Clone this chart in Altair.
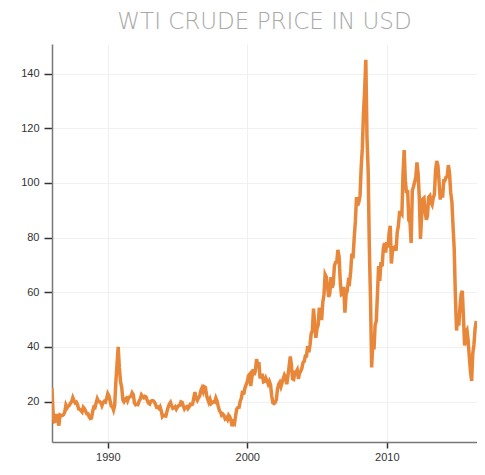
import altair as alt
import pandas as pd

# Monthly WTI crude price (USD), Jan 1986 .. Jun 2016
wti_1986_1990 = [
    25.0, 15.5, 12.6, 12.8, 15.4, 13.4, 11.2, 15.1, 14.9, 14.9, 15.2, 16.1,
    18.7, 17.7, 18.3, 18.6, 19.4, 20.0, 21.4, 20.3, 19.5, 19.8, 18.9, 17.3,
    17.1, 16.7, 16.2, 17.9, 17.4, 16.5, 15.5, 15.5, 14.5, 13.8, 14.0, 16.3,
    18.0, 17.8, 19.4, 21.0, 20.0, 20.0, 19.6, 18.5, 19.6, 20.1, 19.8, 21.1,
    22.9, 22.1, 20.4, 18.4, 18.2, 16.9, 18.6, 27.2, 33.7, 40.0, 32.3, 27.3,
]
wti_1991_1995 = [
    25.2, 20.5, 19.9, 20.8, 21.2, 20.2, 21.4, 21.7, 21.9, 23.2, 22.5, 19.5,
    18.8, 19.0, 18.9, 20.2, 20.9, 22.4, 21.8, 21.4, 21.9, 21.7, 20.3, 19.4,
    19.1, 20.1, 20.3, 20.3, 19.9, 19.1, 17.9, 18.0, 17.5, 18.1, 16.7, 14.5,
    15.0, 14.8, 14.7, 16.4, 17.9, 19.1, 19.7, 18.4, 17.5, 17.7, 18.1, 17.2,
    18.0, 18.5, 18.6, 19.9, 19.7, 18.4, 17.3, 18.0, 18.2, 17.4, 18.0, 19.0,
]
wti_1996_2000 = [
    18.9, 19.1, 21.3, 23.5, 21.2, 20.4, 21.3, 21.9, 23.9, 24.9, 23.7, 25.4,
    25.1, 22.2, 20.9, 19.7, 20.8, 19.3, 19.7, 19.9, 19.8, 21.3, 20.2, 18.3,
    16.7, 16.1, 15.0, 15.4, 14.9, 13.7, 14.1, 13.4, 15.0, 14.4, 12.9, 11.0,
    12.5, 12.0, 14.7, 17.3, 17.8, 17.9, 20.1, 21.3, 23.9, 22.6, 25.0, 26.1,
    27.2, 29.4, 29.9, 25.7, 28.8, 31.8, 29.7, 31.3, 35.5, 33.1, 34.4, 28.5,
]
wti_2001_2005 = [
    29.6, 29.6, 27.2, 27.4, 28.6, 27.6, 26.4, 27.4, 26.2, 22.2, 19.6, 19.3,
    19.7, 20.7, 24.4, 26.3, 27.0, 25.5, 26.9, 28.4, 29.7, 28.9, 26.3, 29.4,
    32.9, 36.5, 33.6, 28.3, 28.1, 30.7, 30.8, 31.6, 28.3, 30.3, 31.1, 32.2,
    34.3, 34.7, 36.7, 36.7, 40.3, 38.0, 40.7, 44.9, 45.9, 54.0, 48.5, 43.3,
    46.8, 48.0, 54.3, 53.0, 49.8, 56.3, 59.0, 66.5, 65.6, 62.4, 58.3, 59.4,
]
wti_2006_2010 = [
    65.5, 61.6, 62.9, 69.7, 70.9, 71.0, 75.5, 73.1, 63.9, 59.1, 59.4, 62.0,
    52.5, 59.3, 60.4, 64.0, 63.5, 67.5, 74.1, 72.4, 79.9, 85.8, 94.8, 91.7,
    93.0, 95.4, 105.5, 112.6, 125.4, 133.9, 145.0, 116.7, 104.1, 76.6, 57.3, 32.5,
    41.7, 39.1, 47.9, 49.6, 59.0, 69.6, 64.1, 71.0, 69.4, 75.7, 78.0, 74.5,
    78.3, 76.4, 81.2, 84.3, 70.5, 75.3, 76.3, 76.6, 75.2, 81.9, 84.3, 89.2,
]
wti_2011_2016 = [
    89.2, 88.6, 102.9, 112.0, 100.9, 96.3, 97.3, 86.3, 85.5, 78.0, 97.2, 98.6,
    100.3, 102.2, 107.5, 103.3, 94.7, 79.5, 87.9, 94.1, 94.5, 89.5, 86.5, 87.9,
    94.8, 95.3, 92.9, 92.0, 94.5, 95.8, 104.6, 108.0, 106.3, 100.5, 93.9, 97.6,
    94.6, 100.8, 100.8, 102.1, 102.2, 106.5, 103.6, 96.5, 93.2, 84.4, 75.8, 59.3,
    46.0, 50.6, 47.8, 54.5, 59.3, 60.5, 50.9, 40.5, 45.5, 46.2, 42.4, 36.5,
    31.0, 27.5, 37.5, 40.8, 46.7, 49.5,
]

x_tick_years = [1990, 2000, 2010]
y_ticks = [20, 40, 60, 80, 100, 120, 140]

prices = (wti_1986_1990 + wti_1991_1995 + wti_1996_2000
          + wti_2001_2005 + wti_2006_2010 + wti_2011_2016)
dates = pd.date_range("1986-01-01", periods=len(prices), freq="MS")
df = pd.DataFrame({"date": dates, "price": prices})

chart = (
    alt.Chart(df)
    .mark_line(color="#e8873a", strokeWidth=3.5, clip=True)
    .encode(
        x=alt.X(
            "date:T",
            title=None,
            scale=alt.Scale(domain=[alt.DateTime(year=1986, month=1, date=2),
                                    alt.DateTime(year=2016, month=6, date=20)]),
            axis=alt.Axis(
                values=[alt.DateTime(year=y, month=1, date=1) for y in x_tick_years],
                format="%Y", tickSize=6, labelPadding=3,
            ),
        ),
        y=alt.Y(
            "price:Q",
            title=None,
            scale=alt.Scale(domain=[5.2, 150.8], nice=False, zero=False),
            axis=alt.Axis(values=y_ticks, tickSize=8, labelPadding=5),
        ),
    )
    .properties(
        width=425,
        height=398,
        autosize="none",
        padding={"left": 44, "top": 36, "right": 0, "bottom": 21},
        title=alt.TitleParams(
            "WTI CRUDE PRICE IN USD",
            font="DejaVu Sans",
            fontSize=23,
            fontWeight=200,
            color="#a8a8a8",
            anchor="middle",
            offset=10,
        ),
    )
    .configure_view(stroke=None)
    .configure_axis(
        labelFont="Liberation Sans",
        labelFontSize=11,
        labelColor="#333333",
        tickColor="#333333",
        tickWidth=1.5,
        domainColor="#777777",
        domainWidth=1.5,
        gridColor="#f0f0f0",
        gridWidth=1,
    )
)

chart.save("out.html", embed_options={"renderer": "svg", "actions": False})
